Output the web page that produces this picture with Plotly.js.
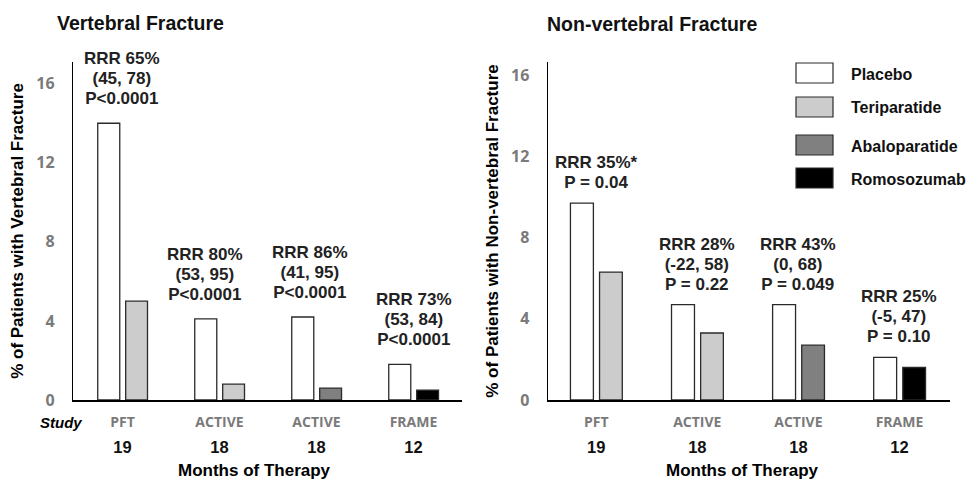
<!DOCTYPE html>
<html>
<head>
<meta charset="utf-8">
<script src="https://cdn.plot.ly/plotly-3.0.1.min.js"></script>
<style>html,body{margin:0;padding:0;background:#fff;}#chart{width:973px;height:479px;}</style>
</head>
<body>
<div id="chart"></div>
<script>
// ---- data ----
const studies = ['PFT', 'ACTIVE', 'ACTIVE', 'FRAME'];
const months = ['19', '18', '18', '12'];
const groupDrug = ['Teriparatide', 'Teriparatide', 'Abaloparatide', 'Romosozumab'];
const seriesNames = ['Placebo', 'Teriparatide', 'Abaloparatide', 'Romosozumab'];
const vertPlacebo = [14.0, 4.1, 4.2, 1.8];
const vertDrug = [5.0, 0.8, 0.6, 0.5];
const nonvertPlacebo = [9.7, 4.7, 4.7, 2.1];
const nonvertDrug = [6.3, 3.3, 2.7, 1.6];
const vertRRR = [
  ['RRR 65%', '(45, 78)', 'P&lt;0.0001'],
  ['RRR 80%', '(53, 95)', 'P&lt;0.0001'],
  ['RRR 86%', '(41, 95)', 'P&lt;0.0001'],
  ['RRR 73%', '(53, 84)', 'P&lt;0.0001']
];
const nonvertRRR = [
  ['RRR 35%*', 'P = 0.04'],
  ['RRR 28%', '(-22, 58)', 'P = 0.22'],
  ['RRR 43%', '(0, 68)', 'P = 0.049'],
  ['RRR 25%', '(-5, 47)', 'P = 0.10']
];
const yTickVals = [0, 4, 8, 12, 16];
const panelTitles = ['Vertebral Fracture', 'Non-vertebral Fracture'];
const yTitles = ['% of Patients with Vertebral Fracture', '% of Patients with Non-vertebral Fracture'];
const xTitle = 'Months of Therapy';

// ---- styles ----
const FONT = 'Liberation Sans, Arial, sans-serif';
const FONT2 = 'Open Sans, Noto Sans, sans-serif';
const colors = {Placebo: '#ffffff', Teriparatide: '#cccccc', Abaloparatide: '#808080', Romosozumab: '#000000'};
const W = 973, H = 479;
const px = v => v / W, py = v => 1 - v / H;

const groupIdx = [0, 1, 2, 3];
const tickText = studies.map((s, i) =>
  '<span style="font-family:\'Open Sans\';font-size:14px;color:#7a7a7a"><b>' + s + '</b></span><br>' +
  '<span style="font-size:16.5px;color:#111"><b>' + months[i] + '</b></span>');

const traces = [];
function addPanel(placebo, drug, xa, ya) {
  traces.push({
    type: 'bar', name: 'Placebo', x: groupIdx, y: placebo, xaxis: xa, yaxis: ya,
    offset: -0.255, width: 0.227, showlegend: false, hoverinfo: 'skip',
    marker: {color: colors.Placebo, line: {color: '#2a2a2a', width: 1.3}}
  });
  seriesNames.slice(1).forEach(name => {
    const xs = [], ys = [];
    groupIdx.forEach(i => { if (groupDrug[i] === name) { xs.push(i); ys.push(drug[i]); } });
    traces.push({
      type: 'bar', name: name, x: xs, y: ys, xaxis: xa, yaxis: ya,
      offset: 0.033, width: 0.225, showlegend: false, hoverinfo: 'skip',
      marker: {color: colors[name], line: {color: '#2a2a2a', width: 1.3}}
    });
  });
}
addPanel(vertPlacebo, vertDrug, 'x', 'y');
addPanel(nonvertPlacebo, nonvertDrug, 'x2', 'y2');

function xAxis(domain, range) {
  return {
    domain: domain, range: range, tickmode: 'array', tickvals: groupIdx, ticktext: tickText,
    showline: true, linecolor: '#000', linewidth: 2.2, ticks: '', showgrid: false, zeroline: false,
    tickfont: {family: FONT, size: 20, color: '#000', weight: 'bold'},
    ticklabelstandoff: 1,
    fixedrange: true
  };
}
function yAxis(range, title, anchor) {
  return {
    domain: [1 - 400 / H, 1 - 62 / H], range: range, anchor: anchor, tickmode: 'array', tickvals: yTickVals,
    showline: true, linecolor: '#000', linewidth: 1.2, ticks: '', showgrid: false, zeroline: false,
    tickfont: {family: FONT2, size: 16, color: '#7a7a7a', weight: 'bold'},
    ticklabelstandoff: 14,
    title: {text: title, font: {family: FONT, size: 17, color: '#000', weight: 'bold'}, standoff: 8},
    fixedrange: true
  };
}

const annotations = [];
function rrrAnn(texts, vals, xa, ya, yshift, xshifts) {
  texts.forEach((lines, i) => {
    annotations.push({
      xref: xa, yref: ya, x: i, y: vals[i], xanchor: 'center', yanchor: 'bottom', yshift: yshift, xshift: xshifts[i],
      showarrow: false, align: 'center',
      text: lines.map(l => '<span style="font-size:17px">' + l + '</span>').join('<br>'),
      font: {family: FONT, size: 15.4, color: '#222', weight: 'bold'}
    });
  });
}
rrrAnn(vertRRR, vertPlacebo, 'x', 'y', 13, [0, -14, -6, 0]);
rrrAnn(nonvertRRR, nonvertPlacebo, 'x2', 'y2', 9, [0, 0, 0, 0]);

// panel titles
annotations.push({xref: 'paper', yref: 'paper', x: px(55), y: py(23), xanchor: 'left', yanchor: 'middle', showarrow: false,
  text: panelTitles[0], font: {family: FONT, size: 19.5, color: '#111', weight: 'bold'}});
annotations.push({xref: 'paper', yref: 'paper', x: px(545), y: py(24), xanchor: 'left', yanchor: 'middle', showarrow: false,
  text: panelTitles[1], font: {family: FONT, size: 19.5, color: '#111', weight: 'bold'}});
// x-axis titles
[254, 742].forEach(cx => {
  annotations.push({xref: 'paper', yref: 'paper', x: px(cx), y: py(470), xanchor: 'center', yanchor: 'middle', showarrow: false,
    text: xTitle, font: {family: FONT, size: 17, color: '#000', weight: 'bold'}});
});
// "Study" row label
annotations.push({xref: 'paper', yref: 'paper', x: px(61), y: py(422), xanchor: 'center', yanchor: 'middle', showarrow: false,
  text: 'Study', font: {family: FONT, size: 15, color: '#000', weight: 'bold', style: 'italic'}});

// legend (drawn boxes + labels)
const shapes = [];
const legendBoxTop = [63, 97, 135, 168];
seriesNames.forEach((name, i) => {
  shapes.push({type: 'rect', xref: 'paper', yref: 'paper', x0: px(796), x1: px(833), y0: py(legendBoxTop[i]), y1: py(legendBoxTop[i] + 20),
    fillcolor: colors[name], line: {color: '#2a2a2a', width: 1.2}});
  annotations.push({xref: 'paper', yref: 'paper', x: px(849), y: py(legendBoxTop[i] + 11), xanchor: 'left', yanchor: 'middle', showarrow: false,
    text: name, font: {family: FONT, size: 16, color: '#111', weight: 'bold'}});
});

const layout = {
  width: W, height: H, margin: {l: 0, r: 0, t: 0, b: 0},
  paper_bgcolor: '#fff', plot_bgcolor: 'rgba(0,0,0,0)',
  barmode: 'overlay', showlegend: false,
  xaxis: xAxis([73 / W, 462 / W], [-0.51, 3.5]),
  yaxis: yAxis([0, 17.1], yTitles[0], 'x'),
  xaxis2: Object.assign(xAxis([547.7 / W, 950 / W], [-0.48, 3.5]), {anchor: 'y2'}),
  yaxis2: yAxis([0, 16.65], yTitles[1], 'x2'),
  annotations: annotations, shapes: shapes
};

Plotly.newPlot('chart', traces, layout, {staticPlot: true, displayModeBar: false});
</script>
</body>
</html>
